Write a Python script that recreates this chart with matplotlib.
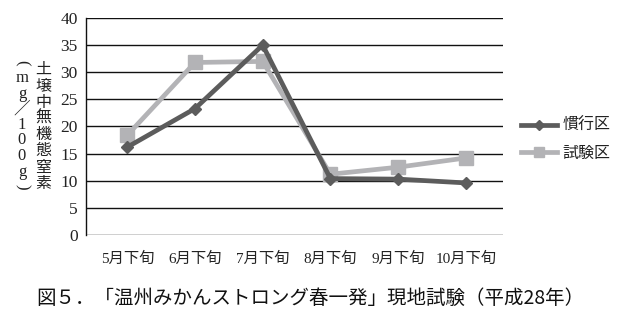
import matplotlib
matplotlib.use("Agg")
import matplotlib.pyplot as plt

# data
months = ["5月下旬", "6月下旬", "7月下旬", "8月下旬", "9月下旬", "10月下旬"]
kanko = [16.2, 23.3, 35.0, 10.4, 10.3, 9.6]     # 慣行区
shiken = [18.4, 31.8, 32.0, 11.2, 12.5, 14.2]   # 試験区
yticks = [0, 5, 10, 15, 20, 25, 30, 35, 40]

serif_jp = ["Liberation Serif", "Noto Sans CJK JP"]
sans_jp = ["Noto Sans CJK JP", "DejaVu Sans"]

fig = plt.figure(figsize=(6.23, 3.23), dpi=100)
ax = fig.add_axes([86/623, 1 - 235/323, (503-86)/623, (235-18)/323])

x = list(range(len(months)))
ax.plot(x, kanko, color="#5c5c5c", lw=3.4, marker="D", ms=6.5,
        label="慣行区", zorder=3)
ax.plot(x, shiken, color="#b3b3b6", lw=3.4, marker="s", ms=9.5,
        label="試験区", zorder=2)

ax.set_ylim(0, 40)
ax.set_xlim(-0.61, 5.55)
ax.set_yticks(yticks)
ax.set_yticklabels([str(v) for v in yticks], family=serif_jp, fontsize=12.5,
                   color="#222222")
ax.set_xticks(x)
ax.set_xticklabels(months, family=serif_jp, fontsize=11, color="#222222")
ax.tick_params(length=0, pad=6)
ax.tick_params(axis="x", pad=12)
ax.yaxis.grid(True, color="#111111", lw=1.0)
ax.set_axisbelow(True)
for s in ["top", "right", "bottom"]:
    ax.spines[s].set_visible(False)
ax.spines["left"].set_color("#111111")
ax.spines["left"].set_linewidth(1.0)

leg = ax.legend(loc="upper left", bbox_to_anchor=(507/623, 1 - 104/323),
                bbox_transform=fig.transFigure, frameon=False,
                prop={"family": serif_jp, "size": 11.5},
                handlelength=2.2, labelspacing=0.7, handletextpad=0.35,
                markerscale=0.75)
for t in leg.get_texts():
    t.set_color("#222222")

# vertical y label, two columns (parentheses turned for vertical writing)
col1 = ["(", "m", "g", "／", "1", "0", "0", "g", ")"]
col2 = ["土", "壌", "中", "無", "機", "態", "窒", "素"]
for i, c in enumerate(col1):
    rot = -90 if c in "()" else 0
    fig.text(22/623, 1 - (63 + i*15.5)/323, c, ha="center", va="center",
             family=serif_jp, fontsize=12, color="#222222", rotation=rot)
for i, c in enumerate(col2):
    fig.text(43/623, 1 - (70 + i*16.3)/323, c, ha="center", va="center",
             family=serif_jp, fontsize=11.5, color="#222222")

fig.text(310/623, 1 - 298/323, "図５．「温州みかんストロング春一発」現地試験（平成28年）",
         ha="center", va="center", family=sans_jp, fontsize=14, color="#111111")

fig.savefig("out.png", dpi=100)
